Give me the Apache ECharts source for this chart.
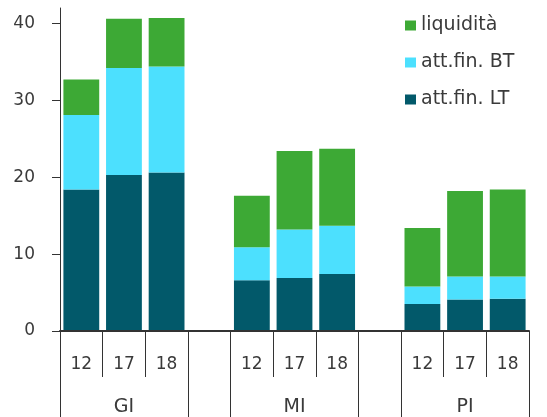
<!DOCTYPE html>
<html>
<head>
<meta charset="utf-8">
<script src="https://cdn.jsdelivr.net/npm/echarts@6/dist/echarts.min.js"></script>
<style>
html,body{margin:0;padding:0;background:#fff;}
#chart{width:547px;height:417px;}
</style>
</head>
<body>
<div id="chart"></div>
<script>
// categories: year labels per slot (empty slot = gap between groups)
var yearLabels = ['12', '17', '18', '', '12', '17', '18', '', '12', '17', '18'];
var groupLabels = ['', 'GI', '', '', '', 'MI', '', '', '', 'PI', ''];
var yTicks = [0, 10, 20, 30, 40];
// series values (stacked)
var attFinLT = [18.4, 20.3, 20.6, null, 6.6, 6.9, 7.4, null, 3.5, 4.1, 4.2];
var attFinBT = [9.7, 13.9, 13.8, null, 4.3, 6.3, 6.3, null, 2.3, 3.0, 2.9];
var liquidita = [4.6, 6.4, 6.3, null, 6.7, 10.2, 10.0, null, 7.6, 11.1, 11.3];

var font = '"DejaVu Sans", sans-serif';
var txt = '#3a3a3a';
var lineC = '#333333';

var chart = echarts.init(document.getElementById('chart'));
chart.setOption({
  animation: false,
  grid: { left: 60, right: 18, top: 8, bottom: 86, containLabel: false, outerBoundsMode: 'none' },
  legend: {
    orient: 'vertical',
    left: 400,
    top: 11,
    itemWidth: 11,
    itemHeight: 10,
    itemGap: 18,
    data: ['liquidità', 'att.fin. BT', 'att.fin. LT'],
    textStyle: { fontFamily: font, fontSize: 19, color: txt },
    icon: 'rect'
  },
  xAxis: [
    {
      type: 'category',
      data: yearLabels,
      position: 'bottom',
      z: 5,
      axisLine: { show: true, onZero: false, lineStyle: { color: lineC, width: 2 } },
      axisTick: {
        show: true, length: 46,
        interval: function (i) { return i === 1 || i === 2 || i === 5 || i === 6 || i === 9 || i === 10; },
        lineStyle: { color: lineC, width: 1 }
      },
      axisLabel: { interval: 0, margin: 25, fontFamily: font, fontSize: 17, color: txt }
    },
    {
      type: 'category',
      data: groupLabels,
      position: 'bottom',
      offset: 0,
      axisLine: { show: false },
      axisTick: {
        show: true, length: 86,
        interval: function (i) { return i === 0 || i === 3 || i === 4 || i === 7 || i === 8; },
        lineStyle: { color: lineC, width: 1 }
      },
      axisLabel: { interval: 0, margin: 67, fontFamily: font, fontSize: 19, color: txt }
    }
  ],
  yAxis: {
    type: 'value',
    min: 0,
    max: 42,
    interval: 10,
    splitLine: { show: false },
    axisLine: { show: true, lineStyle: { color: lineC, width: 1 } },
    axisTick: { show: true, length: 8, customValues: yTicks, lineStyle: { color: lineC, width: 1 } },
    axisLabel: { customValues: yTicks, margin: 25, fontFamily: font, fontSize: 17, color: txt }
  },
  series: [
    { name: 'att.fin. LT', type: 'bar', stack: 'tot', data: attFinLT, barCategoryGap: '16%', itemStyle: { color: '#02596A' } },
    { name: 'att.fin. BT', type: 'bar', stack: 'tot', data: attFinBT, itemStyle: { color: '#4CE0FE' } },
    { name: 'liquidità', type: 'bar', stack: 'tot', data: liquidita, itemStyle: { color: '#3DA935' } }
  ]
});
</script>
</body>
</html>
